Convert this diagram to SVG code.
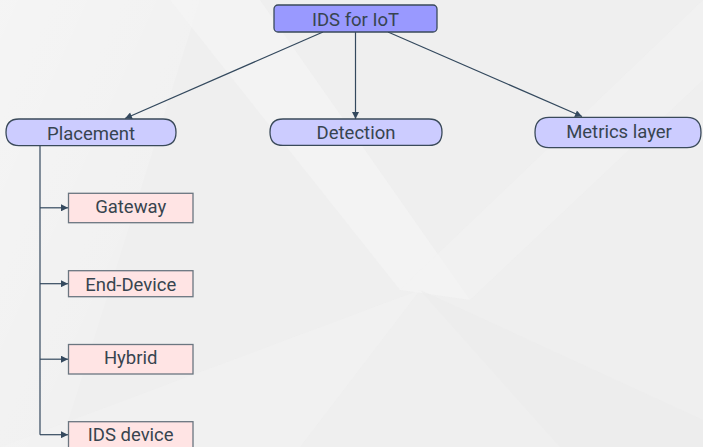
<svg xmlns="http://www.w3.org/2000/svg" width="703" height="447" viewBox="0 0 703 447">
  <defs>
    <marker id="arrow" viewBox="0 0 10 10" refX="10" refY="5" markerWidth="8" markerHeight="7" markerUnits="userSpaceOnUse" orient="auto">
      <path d="M0,0 L10,5 L0,10 Z" fill="#34495e"/>
    </marker>
    <linearGradient id="sheen" x1="0" y1="0" x2="1" y2="1">
      <stop offset="0" stop-color="#ffffff" stop-opacity="0.6"/>
      <stop offset="1" stop-color="#ffffff" stop-opacity="0"/>
    </linearGradient>
    <style>
      text { font-family: Roboto, "Liberation Sans", sans-serif; font-size: 18.5px; fill: #37444f; text-anchor: middle; }
      .root { fill: #9999ff; stroke: #3a4a5a; stroke-width: 1.3; }
      .mid { fill: #ccccff; stroke: #3a4a5a; stroke-width: 1.3; }
      .leaf { fill: #ffe4e4; stroke: #6b7680; stroke-width: 1.3; }
      .edge { fill: none; stroke: #34495e; stroke-width: 1.2; }
    </style>
  </defs>

  <!-- backdrop -->
  <rect width="703" height="447" fill="#efefef"/>
  <polygon points="0,0 200,0 60,447 0,447" fill="url(#sheen)" opacity="0.6"/>
  <polygon points="170,0 260,0 470,300 400,290" fill="#f5f5f5" opacity="0.6"/>
  <polygon points="400,290 703,0 703,80 470,300" fill="#f4f4f4" opacity="0.5"/>
  <polygon points="420,290 703,420 703,447 560,447" fill="#ebebeb" opacity="0.5"/>
  <polygon points="0,447 420,290 300,447" fill="#f3f3f3" opacity="0.5"/>

  <!-- connectors -->
  <g id="connectors">
    <line class="edge" x1="323" y1="32" x2="125" y2="118.5" marker-end="url(#arrow)"/>
    <line class="edge" x1="355.5" y1="32" x2="355.5" y2="119" marker-end="url(#arrow)"/>
    <line class="edge" x1="388" y1="32" x2="582" y2="116.5" marker-end="url(#arrow)"/>
    <path class="edge" d="M40,145.5 V434.7"/>
    <line class="edge" x1="40" y1="207.8" x2="68" y2="207.8" marker-end="url(#arrow)"/>
    <line class="edge" x1="40" y1="283.7" x2="68" y2="283.7" marker-end="url(#arrow)"/>
    <line class="edge" x1="40" y1="359.2" x2="68" y2="359.2" marker-end="url(#arrow)"/>
    <line class="edge" x1="40" y1="434.7" x2="68" y2="434.7" marker-end="url(#arrow)"/>
  </g>

  <!-- root -->
  <g id="node-root">
    <rect class="root" x="274" y="5" width="163" height="27" rx="4"/>
    <text x="355.5" y="26">IDS for IoT</text>
  </g>

  <!-- second level -->
  <g id="node-placement">
    <path class="mid" d="M19,119 H163 Q176,119 176,132.3 Q176,145.6 163,145.6 H19 Q6,145.6 6,132.3 Q6,119 19,119 Z"/>
    <text x="91" y="140">Placement</text>
  </g>
  <g id="node-detection">
    <path class="mid" d="M283,119 H429 Q442,119 442,132.2 Q442,145.4 429,145.4 H283 Q270,145.4 270,132.2 Q270,119 283,119 Z"/>
    <text x="356" y="139.3">Detection</text>
  </g>
  <g id="node-metrics">
    <path class="mid" d="M549,117.3 H687 Q701,117.3 701,132.5 Q701,147.6 687,147.6 H549 Q535,147.6 535,132.5 Q535,117.3 549,117.3 Z"/>
    <text x="619" y="138.3">Metrics layer</text>
  </g>

  <!-- leaves -->
  <g id="node-gateway">
    <rect class="leaf" x="68.5" y="193.3" width="124.5" height="29.4"/>
    <text x="130.7" y="212.7">Gateway</text>
  </g>
  <g id="node-end-device">
    <rect class="leaf" x="68.5" y="270.7" width="124.5" height="26"/>
    <text x="130.7" y="290.7">End-Device</text>
  </g>
  <g id="node-hybrid">
    <rect class="leaf" x="68.5" y="344.5" width="124.5" height="29.5"/>
    <text x="130.7" y="364.2">Hybrid</text>
  </g>
  <g id="node-ids-device">
    <rect class="leaf" x="68.5" y="421.7" width="124.5" height="30"/>
    <text x="130.7" y="440.7">IDS device</text>
  </g>
</svg>
